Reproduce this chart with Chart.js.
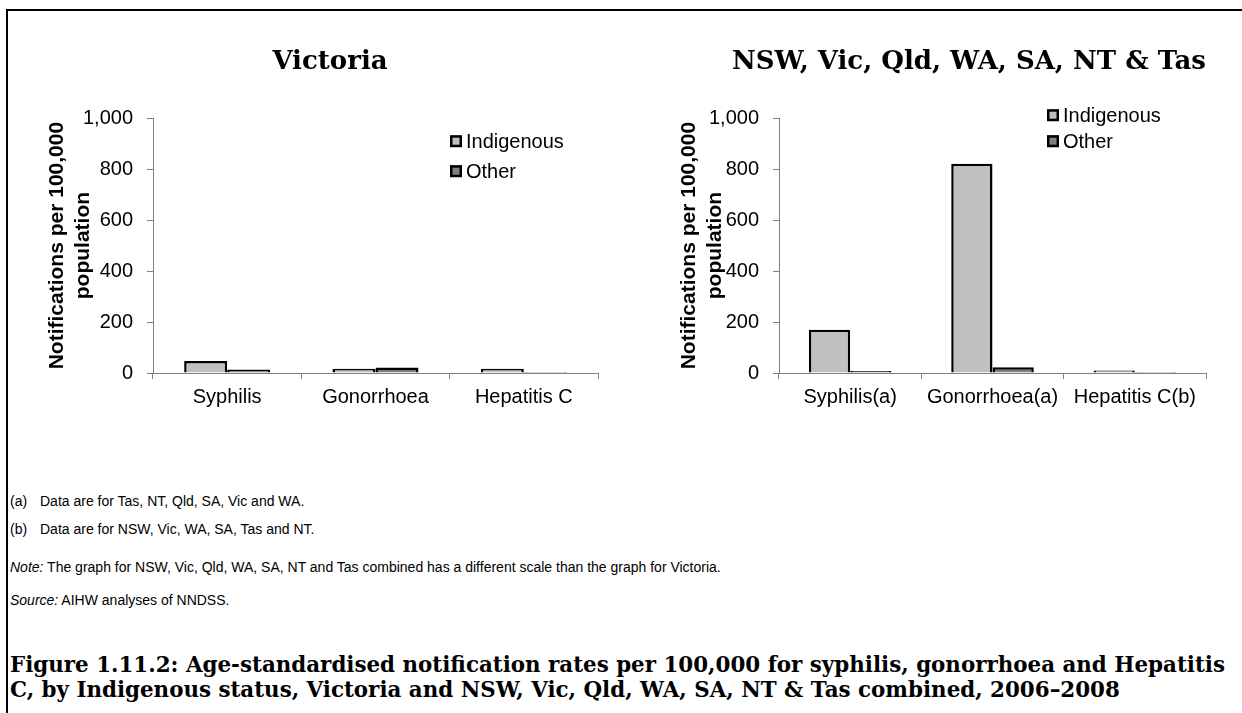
<!DOCTYPE html>
<html>
<head>
<meta charset="utf-8">
<script src="https://cdn.jsdelivr.net/npm/chart.js@4.4.0/dist/chart.umd.min.js"></script>
<style>
  body { margin: 0; width: 1242px; height: 713px; background: #fff; position: relative; overflow: hidden;
         font-family: "Liberation Sans", Arial, sans-serif; }
  #frame { position: absolute; left: 6px; top: 9px; width: 1400px; height: 900px;
           border-left: 2px solid #000; border-top: 2px solid #000; }
  canvas { position: absolute; }
  #vic { left: 40px; top: 20px; }
  #all { left: 672px; top: 20px; }
  .fn { position: absolute; left: 10px; font-size: 14px; line-height: 16px; white-space: nowrap; }
  .fn .lbl { display: inline-block; width: 30px; }
  #caption { position: absolute; left: 10px; top: 652px; font-family: "DejaVu Serif", serif; font-weight: bold;
             font-size: 21.4px; line-height: 25px; white-space: nowrap; }
</style>
</head>
<body>
<div id="frame"></div>
<canvas id="vic" width="580" height="393"></canvas>
<canvas id="all" width="570" height="393"></canvas>

<div class="fn" style="top:493px"><span class="lbl">(a)</span>Data are for Tas, NT, Qld, SA, Vic and WA.</div>
<div class="fn" style="top:521px"><span class="lbl">(b)</span>Data are for NSW, Vic, WA, SA, Tas and NT.</div>
<div class="fn" style="top:559px"><i>Note:</i> The graph for NSW, Vic, Qld, WA, SA, NT and Tas combined has a different scale than the graph for Victoria.</div>
<div class="fn" style="top:592px"><i>Source:</i> AIHW analyses of NNDSS.</div>
<div id="caption">Figure 1.11.2: Age-standardised notification rates per 100,000 for syphilis, gonorrhoea and Hepatitis<br>C, by Indigenous status, Victoria and NSW, Vic, Qld, WA, SA, NT &amp; Tas combined, 2006–2008</div>

<script>
// データ
const SERIES = ["Indigenous", "Other"];
const COLORS = ["#c0c0c0", "#808080"];

const VIC_TITLE = "Victoria";
const VIC_CATS = ["Syphilis", "Gonorrhoea", "Hepatitis C"];
const VIC_INDIGENOUS = [47, 17, 17];
const VIC_OTHER = [14, 22, 4];

const ALL_TITLE = "NSW, Vic, Qld, WA, SA, NT & Tas";
const ALL_CATS = ["Syphilis(a)", "Gonorrhoea(a)", "Hepatitis C(b)"];
const ALL_INDIGENOUS = [170, 821, 10];
const ALL_OTHER = [8, 23, 4];

const Y_TITLE = ["Notifications per 100,000", "population"];
const SANS = '"Liberation Sans", Arial, sans-serif';

// 凡例（グラフ内に描く）
const boxLegend = {
  id: "boxLegend",
  afterDraw(chart, args, opts) {
    const { ctx, chartArea } = chart;
    ctx.save();
    ctx.font = "20px " + SANS;
    ctx.textBaseline = "middle";
    chart.data.datasets.forEach((ds, i) => {
      const x = chartArea.left + opts.x;
      const y = chartArea.top + opts.y + i * opts.gap;
      ctx.fillStyle = ds.backgroundColor;
      ctx.fillRect(x, y - 6, 12, 12);
      ctx.lineWidth = 2.5;
      ctx.strokeStyle = "#000";
      ctx.strokeRect(x + 1.25, y - 4.75, 9.5, 9.5);
      ctx.fillStyle = "#000";
      ctx.fillText(ds.label, x + 16, y + 1);
    });
    ctx.restore();
  }
};

// padL: 左余白（タイトル中心の調整用）, yWidth: y軸の幅, titlePad: 軸タイトル位置
function makeChart(id, title, align, cats, vals, padL, yWidth, titlePad, padRight, legend) {
  return new Chart(document.getElementById(id), {
    type: "bar",
    data: {
      labels: cats,
      datasets: vals.map((v, i) => ({
        label: SERIES[i],
        data: v,
        backgroundColor: COLORS[i],
        borderColor: "#000",
        borderWidth: 2.5,
        categoryPercentage: 0.58,
        barPercentage: 1
      }))
    },
    options: {
      responsive: false,
      animation: false,
      layout: { padding: { left: padL, right: padRight, top: 0, bottom: 0 } },
      plugins: {
        legend: { display: false },
        tooltip: { enabled: false },
        title: {
          display: true, text: title, color: "#000", align: align,
          font: { family: '"DejaVu Serif", serif', weight: "bold", size: 26, lineHeight: 1.2 },
          padding: { top: 27, bottom: 40 }
        },
        boxLegend: legend
      },
      scales: {
        x: {
          grid: { drawOnChartArea: false, tickLength: 6, color: "#808080" },
          border: { color: "#808080" },
          ticks: { color: "#000", font: { family: SANS, size: 20 }, padding: 6, maxRotation: 0 },
          afterFit: s => { s.height = 40; }
        },
        y: {
          min: 0, max: 1000,
          grid: { drawOnChartArea: false, tickLength: 6, color: "#808080" },
          border: { color: "#808080" },
          ticks: { stepSize: 200, color: "#000", font: { family: SANS, size: 20 }, padding: 14 },
          title: {
            display: true, text: Y_TITLE, color: "#000",
            font: { family: SANS, size: 21, weight: "bold", lineHeight: 1.2 },
            padding: { top: titlePad, bottom: 0 }
          },
          afterFit: s => { s.width = yWidth; }
        }
      }
    },
    plugins: [boxLegend]
  });
}

makeChart("vic", VIC_TITLE, "center", VIC_CATS, [VIC_INDIGENOUS, VIC_OTHER], 22, 91, -17, 22, { x: 297, y: 23, gap: 30 });
makeChart("all", ALL_TITLE, "end", ALL_CATS, [ALL_INDIGENOUS, ALL_OTHER], 0, 107, 5, 36, { x: 268, y: -3, gap: 26 });
</script>
</body>
</html>
